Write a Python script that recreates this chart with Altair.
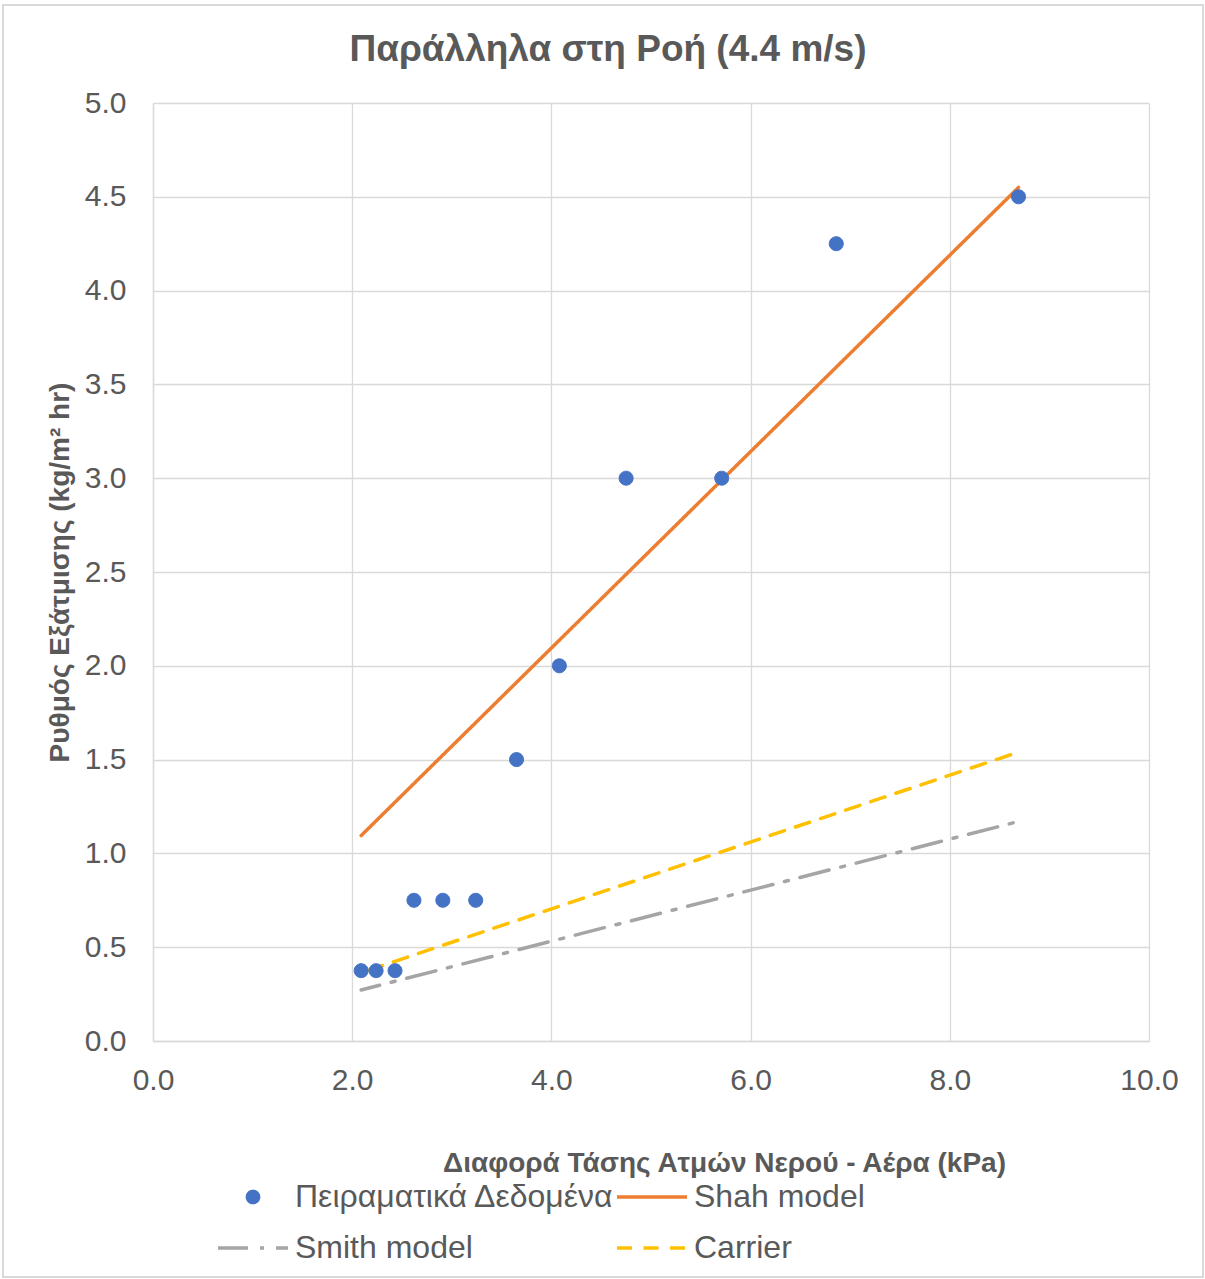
import altair as alt
import pandas as pd

# Experimental evaporation rates (kg/m² hr) vs vapour pressure difference (kPa)
exp_x = [2.09, 2.24, 2.43, 2.62, 2.91, 3.24, 3.65, 4.08, 4.75, 5.71, 6.86, 8.69]
exp_y = [0.375, 0.375, 0.375, 0.75, 0.75, 0.75, 1.5, 2.0, 3.0, 3.0, 4.25, 4.5]

# Model predictions over the same pressure range
model_x = [2.09, 8.69]
shah_y = [1.095, 4.55]
smith_y = [0.272, 1.17]
carrier_y = [0.364, 1.54]

series_names = ["Πειραματικά Δεδομένα", "Shah model", "Smith model", "Carrier"]
series_colors = ["#4472C4", "#ED7D31", "#A5A5A5", "#FFC000"]
series_dashes = [[1, 0], [1, 0], [30, 12, 4, 12], [15, 11.5]]

TEXT = "#595959"
GRID = "#D9D9D9"
FONT = "Liberation Sans"

# symbol shapes: a small disc for the measurements, a horizontal stroke for the models
DOT = "M-0.16,0A0.16,0.16 0 1,0 0.16,0A0.16,0.16 0 1,0 -0.16,0Z"
STROKE = "M-1,0L1,0"
series_shapes = [DOT, STROKE, STROKE, STROKE]

points = pd.DataFrame({"x": exp_x, "y": exp_y, "series": series_names[0]})
models = pd.concat(
    [
        pd.DataFrame({"x": model_x, "y": shah_y, "series": series_names[1]}),
        pd.DataFrame({"x": model_x, "y": smith_y, "series": series_names[2]}),
        pd.DataFrame({"x": model_x, "y": carrier_y, "series": series_names[3]}),
    ],
    ignore_index=True,
)

x_enc = alt.X(
    "x:Q",
    scale=alt.Scale(domain=[0, 10], nice=False),
    axis=alt.Axis(
        title="Διαφορά Τάσης Ατμών Νερού - Αέρα (kPa)",
        values=[0, 2, 4, 6, 8, 10],
        format=".1f",
        labelFlush=False,
        titleX=571,
        titleY=122,
        titleAlign="center",
        titleBaseline="middle",
    ),
)
y_enc = alt.Y(
    "y:Q",
    scale=alt.Scale(domain=[0, 5], nice=False),
    axis=alt.Axis(
        title="Ρυθμός Εξάτμισης (kg/m² hr)",
        values=[0, 0.5, 1, 1.5, 2, 2.5, 3, 3.5, 4, 4.5, 5],
        format=".1f",
        labelFlush=False,
        titleX=-93,
        titleY=469,
        titleAlign="center",
        titleBaseline="middle",
    ),
)

stroke_scale = alt.Scale(domain=series_names, range=series_colors)
dash_scale = alt.Scale(domain=series_names, range=series_dashes)
shape_scale = alt.Scale(domain=series_names, range=series_shapes)

legend = alt.Legend(title=None)

pts = (
    alt.Chart(points)
    .mark_point(filled=True, opacity=1, size=7656, strokeWidth=1)
    .encode(
        x=x_enc,
        y=y_enc,
        fill=alt.Fill("series:N", scale=stroke_scale, legend=legend),
        stroke=alt.Stroke("series:N", scale=stroke_scale, legend=legend),
        shape=alt.Shape("series:N", scale=shape_scale, legend=legend),
    )
)


def model_line(name, dash_offset):
    return (
        alt.Chart(models)
        .transform_filter(alt.datum.series == name)
        .mark_line(strokeWidth=3.5, strokeCap="round", strokeDashOffset=dash_offset)
        .encode(
            x=x_enc,
            y=y_enc,
            stroke=alt.Stroke("series:N", scale=stroke_scale, legend=legend),
            strokeDash=alt.StrokeDash("series:N", scale=dash_scale, legend=legend),
        )
    )


shah = model_line(series_names[1], 0)
smith = model_line(series_names[2], 11)
carrier = model_line(series_names[3], 19)

# light frame around the whole figure
frame = (
    alt.Chart(alt.Data(values=[{}]))
    .mark_rect(fill="transparent", stroke=GRID, strokeWidth=2)
    .encode(
        x=alt.value(-150),
        x2=alt.value(1050),
        y=alt.value(-98),
        y2=alt.value(1174),
    )
)

chart = (
    alt.layer(frame, shah, smith, carrier, pts)
    .properties(
        width=996,
        height=938,
        padding={"left": 2, "top": 4, "right": 0, "bottom": 0},
        title=alt.TitleParams(
            text="Παράλληλα στη Ροή (4.4 m/s)",
            font=FONT,
            fontSize=37,
            fontWeight="bold",
            color=TEXT,
            anchor="middle",
            dx=-43,
            offset=-65,
        ),
    )
    .configure_view(stroke="transparent")
    .configure_axis(
        labelFont=FONT,
        labelFontSize=30,
        labelColor=TEXT,
        titleFont=FONT,
        titleFontSize=28,
        titleFontWeight="bold",
        titleColor=TEXT,
        gridColor=GRID,
        gridWidth=1.3,
        domainColor=GRID,
        domainWidth=1.3,
        ticks=False,
    )
    .configure_axisX(labelPadding=24)
    .configure_axisY(labelPadding=27)
    .configure_legend(
        orient="none",
        direction="horizontal",
        legendX=63,
        legendY=1077,
        columns=2,
        columnPadding=0,
        rowPadding=17,
        clipHeight=34,
        padding=0,
        labelFont=FONT,
        labelFontSize=32,
        labelColor=TEXT,
        labelOffset=5,
        labelLimit=600,
        symbolSize=4900,
        symbolStrokeWidth=3.5,
    )
)

chart.save("out.html", embed_options={"renderer": "svg", "actions": False})
